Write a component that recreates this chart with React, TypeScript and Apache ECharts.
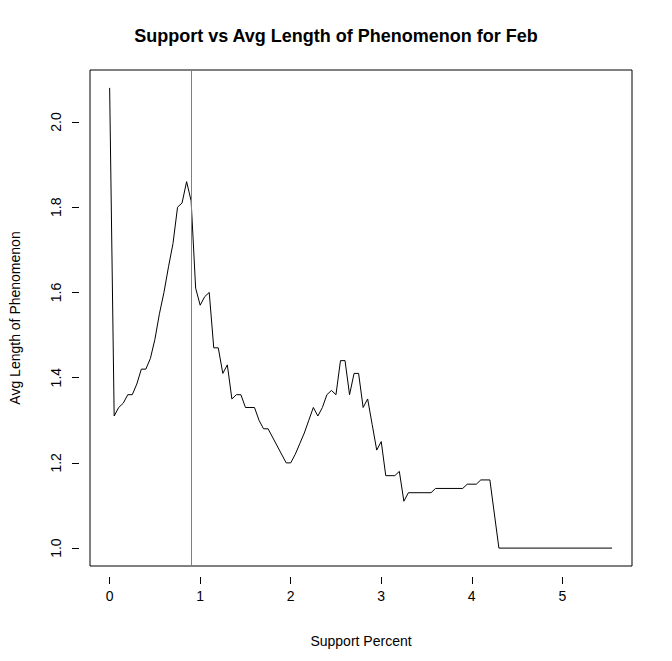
import { useEffect, useRef } from 'react'
import * as echarts from 'echarts'

const supportX = [
  0.0, 0.05, 0.1, 0.15, 0.2, 0.25, 0.3, 0.35, 0.4, 0.45, 0.5, 0.55, 0.6, 0.65, 0.7, 0.75, 0.8, 0.85, 0.9,
  0.95, 1.0, 1.05, 1.1, 1.15, 1.2, 1.25, 1.3, 1.35, 1.4, 1.45, 1.5, 1.6, 1.65, 1.7, 1.75, 1.95, 2.0, 2.05,
  2.1, 2.15, 2.2, 2.25, 2.3, 2.35, 2.4, 2.45, 2.5, 2.55, 2.6, 2.65, 2.7, 2.75, 2.8, 2.85, 2.9, 2.95, 3.0,
  3.05, 3.15, 3.2, 3.25, 3.3, 3.55, 3.6, 3.9, 3.95, 4.05, 4.1, 4.2, 4.3, 5.55,
]
const avgLength = [
  2.08, 1.31, 1.33, 1.34, 1.36, 1.36, 1.385, 1.42, 1.42, 1.445, 1.49, 1.55, 1.6, 1.66, 1.715, 1.8, 1.81, 1.86, 1.815,
  1.61, 1.57, 1.59, 1.6, 1.47, 1.47, 1.41, 1.43, 1.35, 1.36, 1.36, 1.33, 1.33, 1.3, 1.28, 1.28, 1.2, 1.2, 1.22,
  1.245, 1.27, 1.3, 1.33, 1.31, 1.33, 1.36, 1.37, 1.36, 1.44, 1.44, 1.36, 1.41, 1.41, 1.33, 1.35, 1.29, 1.23, 1.25,
  1.17, 1.17, 1.18, 1.11, 1.13, 1.13, 1.14, 1.14, 1.15, 1.15, 1.16, 1.16, 1.0, 1.0,
]
const xTicks = [0, 1, 2, 3, 4, 5]
const yTicks = [1, 1.2, 1.4, 1.6, 1.8, 2]
const cutoff = 0.9

export default function App() {
  const hostRef = useRef<HTMLDivElement | null>(null)

  useEffect(() => {
    document.body.style.margin = '0'
    const host = hostRef.current
    if (!host) return
    const chart = echarts.init(host, undefined, { renderer: 'svg' })
    const font = 'Liberation Sans, Arial, sans-serif'
    chart.setOption({
      animation: false,
      title: {
        text: 'Support vs Avg Length of Phenomenon for Feb',
        left: 'center',
        top: 22,
        textStyle: { fontFamily: font, fontSize: 18, fontWeight: 'bold', color: '#000' },
      },
      grid: { left: 80, right: 40, top: 70, bottom: 95, show: true, borderColor: '#000', borderWidth: 1 },
      xAxis: {
        type: 'value',
        min: -0.217,
        max: 5.77,
        offset: 11,
        name: 'Support Percent',
        nameLocation: 'middle',
        nameGap: 57,
        nameTextStyle: { fontFamily: font, fontSize: 14, color: '#000' },
        axisLine: { show: false, onZero: false },
        axisTick: { show: true, length: 7, lineStyle: { color: '#000' }, customValues: xTicks },
        axisLabel: { fontFamily: font, fontSize: 14, color: '#000', margin: 12, customValues: xTicks },
        splitLine: { show: false },
      },
      yAxis: {
        type: 'value',
        min: 0.958,
        max: 2.122,
        offset: 11,
        name: 'Avg Length of Phenomenon',
        nameLocation: 'middle',
        nameGap: 57,
        nameTextStyle: { fontFamily: font, fontSize: 14, color: '#000' },
        axisLine: { show: false, onZero: false },
        axisTick: { show: true, length: 7, lineStyle: { color: '#000' }, customValues: yTicks },
        axisLabel: {
          fontFamily: font, fontSize: 14, color: '#000', rotate: 90, margin: 16,
          customValues: yTicks,
          formatter: (v: number) => v.toFixed(1),
        },
        splitLine: { show: false },
      },
      series: [
        {
          type: 'line',
          data: supportX.map((x, i) => [x, avgLength[i]]),
          showSymbol: false,
          lineStyle: { color: '#000', width: 1 },
          markLine: {
            silent: true,
            symbol: 'none',
            label: { show: false },
            lineStyle: { color: '#DF536B', type: 'solid', width: 1 },
            data: [{ xAxis: cutoff }],
          },
        },
      ],
    })
    return () => chart.dispose()
  }, [])

  return <div ref={hostRef} style={{ width: 672, height: 661 }} />
}
